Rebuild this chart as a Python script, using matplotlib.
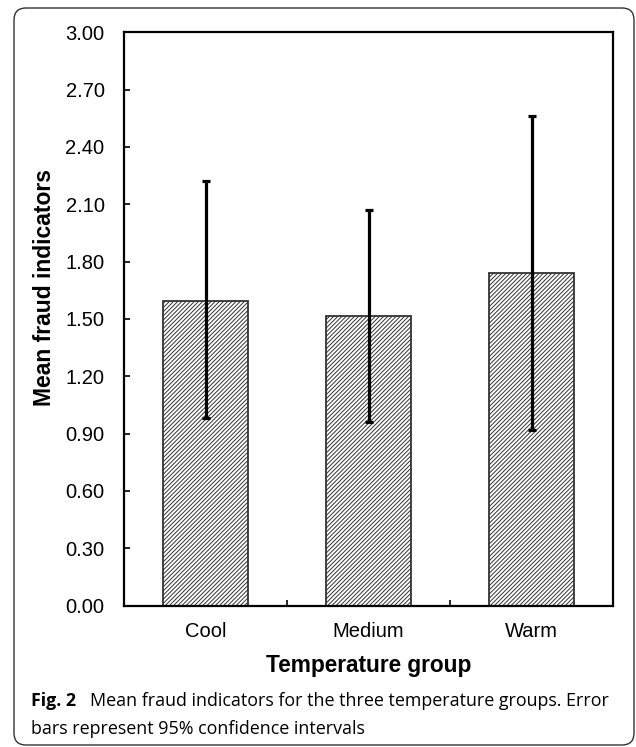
import matplotlib
matplotlib.use("Agg")
import matplotlib.pyplot as plt
from matplotlib.patches import FancyBboxPatch
from matplotlib.transforms import IdentityTransform

# data
groups = ["Cool", "Medium", "Warm"]
means = [1.595, 1.515, 1.741]
ci_low = [0.98, 0.96, 0.92]
ci_high = [2.22, 2.07, 2.56]
yticks = [0.0, 0.3, 0.6, 0.9, 1.2, 1.5, 1.8, 2.1, 2.4, 2.7, 3.0]

plt.rcParams['font.family'] = ['Liberation Sans', 'DejaVu Sans']
plt.rcParams['hatch.color'] = '#8c8c8c'
plt.rcParams['hatch.linewidth'] = 0.7

fig = plt.figure(figsize=(6.36, 7.47), dpi=100)
ax = fig.add_axes([124 / 636, 1 - 605.5 / 747, (613 - 124) / 636, (605.5 - 32.3) / 747])

x = list(range(len(groups)))
err_lo = [m - l for m, l in zip(means, ci_low)]
err_hi = [h - m for m, h in zip(means, ci_high)]

ax.bar(x, means, width=0.52, color='white', edgecolor='#333333',
       linewidth=1.3, hatch='////////', zorder=2)
ax.errorbar(x, means, yerr=[err_lo, err_hi], fmt='none', ecolor='black',
            elinewidth=2.3, capsize=3.0, capthick=2.3, zorder=3)

ax.set_xlim(-0.5, 2.5)
ax.set_ylim(0, 3.0)
ax.set_yticks(yticks)
ax.set_yticklabels([f"{v:.2f}" for v in yticks], fontsize=14.5)
ax.set_xticks(x)
ax.set_xticklabels(groups, fontsize=14.5)
ax.tick_params(axis='x', length=0, pad=12)
ax.set_xticks([0.5, 1.5], minor=True)
ax.tick_params(axis='x', which='minor', direction='in', length=4, width=1.2)
ax.tick_params(axis='y', direction='in', length=4, width=1.2, pad=14)

for s in ax.spines.values():
    s.set_linewidth(1.6)
    s.set_color('black')

ax.set_ylabel("Mean fraud indicators", fontsize=16.5, fontweight='bold')
ax.yaxis.set_label_coords(-0.139, 0.555)
ax.set_xlabel("Temperature group", fontsize=16.3, fontweight='bold', labelpad=9)

# caption
fig.text(31 / 636, 1 - 701 / 747, "Fig. 2", fontsize=12.8, fontweight='bold',
         family='Open Sans', va='center', ha='left')
fig.text(90 / 636, 1 - 701 / 747,
         "Mean fraud indicators for the three temperature groups. Error",
         fontsize=12.9, family='Open Sans', va='center', ha='left')
fig.text(31 / 636, 1 - 729 / 747, "bars represent 95% confidence intervals",
         fontsize=12.9, family='Open Sans', va='center', ha='left')

# outer rounded frame
frame = FancyBboxPatch((14, 2), 620, 737, boxstyle="round,pad=0,rounding_size=12",
                       transform=IdentityTransform(), facecolor='none',
                       edgecolor='#333333', linewidth=1.0)
fig.patches.append(frame)

fig.savefig("out.png", dpi=100)
